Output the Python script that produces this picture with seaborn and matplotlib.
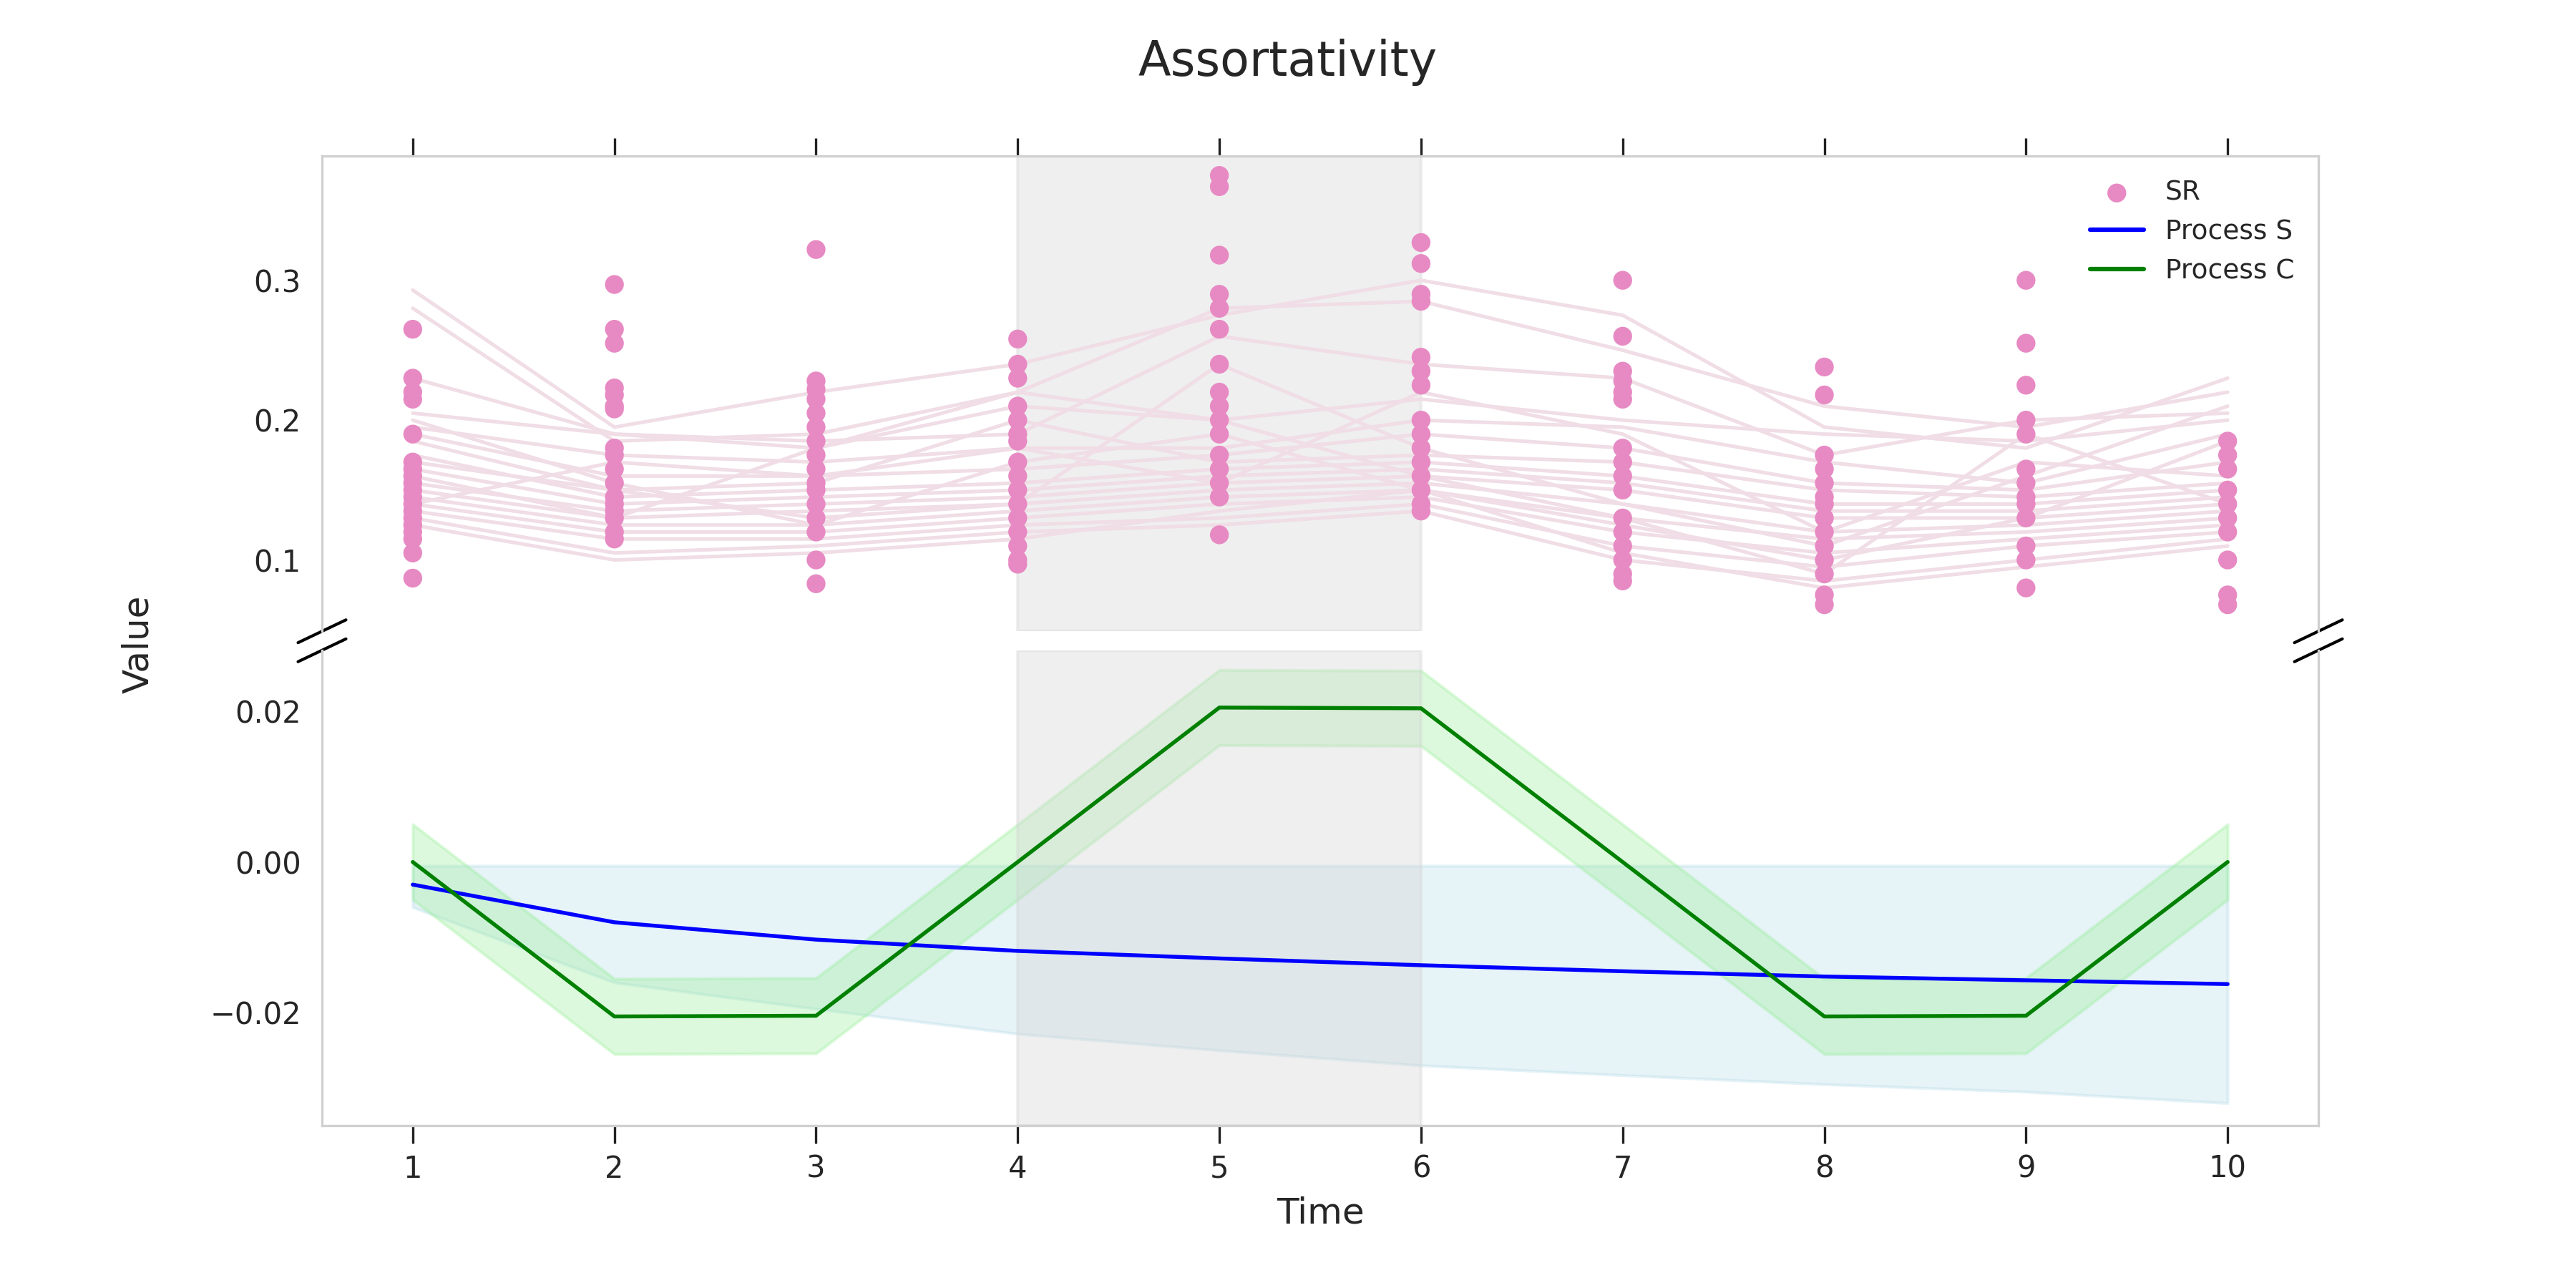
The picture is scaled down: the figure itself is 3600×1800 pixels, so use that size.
import numpy as np
import matplotlib
matplotlib.use("Agg")
from matplotlib import pyplot as plt
import seaborn as sns

time = np.arange(1, 11)

# SR scatter values, per time point
sr_points = [
    [0.265, 0.23, 0.22, 0.215, 0.19, 0.17, 0.165, 0.16, 0.155, 0.15, 0.145, 0.14, 0.135, 0.13, 0.125, 0.12, 0.115, 0.105, 0.087],
    [0.297, 0.265, 0.255, 0.223, 0.218, 0.21, 0.208, 0.18, 0.175, 0.165, 0.155, 0.145, 0.14, 0.135, 0.13, 0.12, 0.115],
    [0.322, 0.228, 0.222, 0.215, 0.205, 0.195, 0.185, 0.175, 0.165, 0.155, 0.15, 0.14, 0.13, 0.12, 0.10, 0.083],
    [0.258, 0.24, 0.23, 0.21, 0.2, 0.19, 0.185, 0.17, 0.16, 0.15, 0.14, 0.13, 0.12, 0.11, 0.10, 0.097],
    [0.375, 0.367, 0.318, 0.29, 0.28, 0.265, 0.24, 0.22, 0.21, 0.2, 0.19, 0.175, 0.165, 0.155, 0.145, 0.118],
    [0.327, 0.312, 0.29, 0.285, 0.245, 0.235, 0.225, 0.2, 0.19, 0.18, 0.17, 0.16, 0.15, 0.14, 0.135],
    [0.3, 0.26, 0.235, 0.228, 0.22, 0.215, 0.18, 0.17, 0.16, 0.15, 0.13, 0.12, 0.11, 0.1, 0.09, 0.085],
    [0.238, 0.218, 0.175, 0.165, 0.155, 0.145, 0.14, 0.13, 0.12, 0.11, 0.1, 0.09, 0.075, 0.068],
    [0.3, 0.255, 0.225, 0.2, 0.19, 0.165, 0.155, 0.145, 0.14, 0.13, 0.11, 0.1, 0.08],
    [0.185, 0.175, 0.165, 0.15, 0.14, 0.13, 0.12, 0.1, 0.075, 0.068],
]

# faint SR trajectories
sr_lines = [
    [0.293, 0.195, 0.22, 0.24, 0.275, 0.30, 0.275, 0.195, 0.18, 0.23],
    [0.28, 0.185, 0.19, 0.22, 0.28, 0.285, 0.25, 0.21, 0.195, 0.22],
    [0.23, 0.19, 0.185, 0.19, 0.26, 0.24, 0.23, 0.175, 0.2, 0.205],
    [0.205, 0.19, 0.18, 0.21, 0.2, 0.215, 0.2, 0.19, 0.185, 0.2],
    [0.195, 0.175, 0.17, 0.18, 0.18, 0.2, 0.195, 0.17, 0.155, 0.19],
    [0.19, 0.16, 0.16, 0.165, 0.175, 0.19, 0.18, 0.155, 0.15, 0.17],
    [0.185, 0.15, 0.155, 0.2, 0.17, 0.175, 0.17, 0.15, 0.145, 0.155],
    [0.175, 0.145, 0.15, 0.155, 0.165, 0.17, 0.16, 0.14, 0.14, 0.15],
    [0.165, 0.14, 0.145, 0.15, 0.16, 0.165, 0.155, 0.135, 0.135, 0.145],
    [0.155, 0.135, 0.14, 0.145, 0.155, 0.16, 0.15, 0.13, 0.13, 0.14],
    [0.15, 0.13, 0.135, 0.14, 0.15, 0.155, 0.14, 0.12, 0.125, 0.135],
    [0.145, 0.125, 0.125, 0.135, 0.145, 0.15, 0.13, 0.115, 0.12, 0.13],
    [0.14, 0.12, 0.12, 0.13, 0.14, 0.145, 0.12, 0.105, 0.115, 0.125],
    [0.135, 0.115, 0.115, 0.125, 0.13, 0.14, 0.11, 0.095, 0.11, 0.12],
    [0.13, 0.105, 0.11, 0.12, 0.125, 0.135, 0.1, 0.085, 0.1, 0.115],
    [0.125, 0.1, 0.105, 0.115, 0.135, 0.15, 0.105, 0.08, 0.095, 0.11],
    [0.16, 0.13, 0.18, 0.22, 0.2, 0.16, 0.13, 0.09, 0.19, 0.14],
    [0.17, 0.15, 0.13, 0.14, 0.24, 0.18, 0.14, 0.11, 0.16, 0.21],
    [0.14, 0.17, 0.16, 0.18, 0.155, 0.22, 0.19, 0.12, 0.17, 0.16],
    [0.2, 0.155, 0.125, 0.17, 0.19, 0.15, 0.125, 0.1, 0.13, 0.185],
]

process_s = [-0.003, -0.008, -0.0103, -0.0118, -0.0128, -0.0137, -0.0145, -0.0152, -0.0157, -0.0162]
process_s_low = [-0.006, -0.016, -0.0195, -0.0228, -0.025, -0.027, -0.0283, -0.0295, -0.0305, -0.032]
process_s_high = [-0.0005] * 10
process_c = [0.0, -0.0205, -0.0204, 0.0, 0.0205, 0.0204, 0.0, -0.0205, -0.0204, 0.0]
process_c_err = 0.005

sns.set_style("white")
plt.rcParams["axes.edgecolor"] = "#d0d0d0"

fig, (ax1, ax2) = plt.subplots(2, 1, sharex=True, figsize=(12, 6), dpi=300)
fig.subplots_adjust(left=0.125, right=0.9, top=0.879, bottom=0.126, hspace=0.04)

for row in sr_lines:
    sns.lineplot(x=time, y=row, ax=ax1, color="#f0dde5", lw=1.2, legend=False)
xs = np.concatenate([[t] * len(v) for t, v in zip(time, sr_points)])
ys = np.concatenate(sr_points)
sns.scatterplot(x=xs, y=ys, ax=ax1, color="#e78ac3", s=40, edgecolor="none", label="SR", zorder=3)
ax1.plot([], [], color="blue", label="Process S")
ax1.plot([], [], color="green", label="Process C")
ax1.legend(loc="upper right", frameon=False, fontsize=9)

ax2.fill_between(time, process_s_low, process_s_high, color="lightblue", alpha=0.3)
sns.lineplot(x=time, y=process_s, ax=ax2, color="blue", lw=1.3)
c = np.array(process_c)
ax2.fill_between(time, c - process_c_err, c + process_c_err, color="lightgreen", alpha=0.3)
sns.lineplot(x=time, y=process_c, ax=ax2, color="green", lw=1.3)

for ax in (ax1, ax2):
    ax.axvspan(4, 6, color="lightgray", alpha=0.35)
    ax.set_ylabel("")

ax1.set_ylim(0.049, 0.389)
ax2.set_ylim(-0.035, 0.0281)
ax1.set_yticks([0.1, 0.2, 0.3])
ax2.set_yticks([-0.02, 0.0, 0.02])
ax2.set_xticks(time)
ax1.spines["bottom"].set_visible(False)
ax2.spines["top"].set_visible(False)
ax1.xaxis.tick_top()
ax1.tick_params(axis="x", top=True, labeltop=False, length=6, color="#222222")
ax2.tick_params(axis="x", bottom=True, length=6, color="#222222")
ax2.set_xlabel("Time", fontsize=12)

d = 0.012
kw = dict(transform=ax1.transAxes, color="k", clip_on=False, lw=1)
ax1.plot((-d, +d), (-d * 2, +d * 2), **kw)
ax1.plot((1 - d, 1 + d), (-d * 2, +d * 2), **kw)
kw.update(transform=ax2.transAxes)
ax2.plot((-d, +d), (1 - d * 2, 1 + d * 2), **kw)
ax2.plot((1 - d, 1 + d), (1 - d * 2, 1 + d * 2), **kw)

fig.text(0.047, 0.5, "Value", rotation=90, va="center", fontsize=12)
fig.suptitle("Assortativity", fontsize=16, y=0.97)
fig.savefig("out.png", dpi=300)
